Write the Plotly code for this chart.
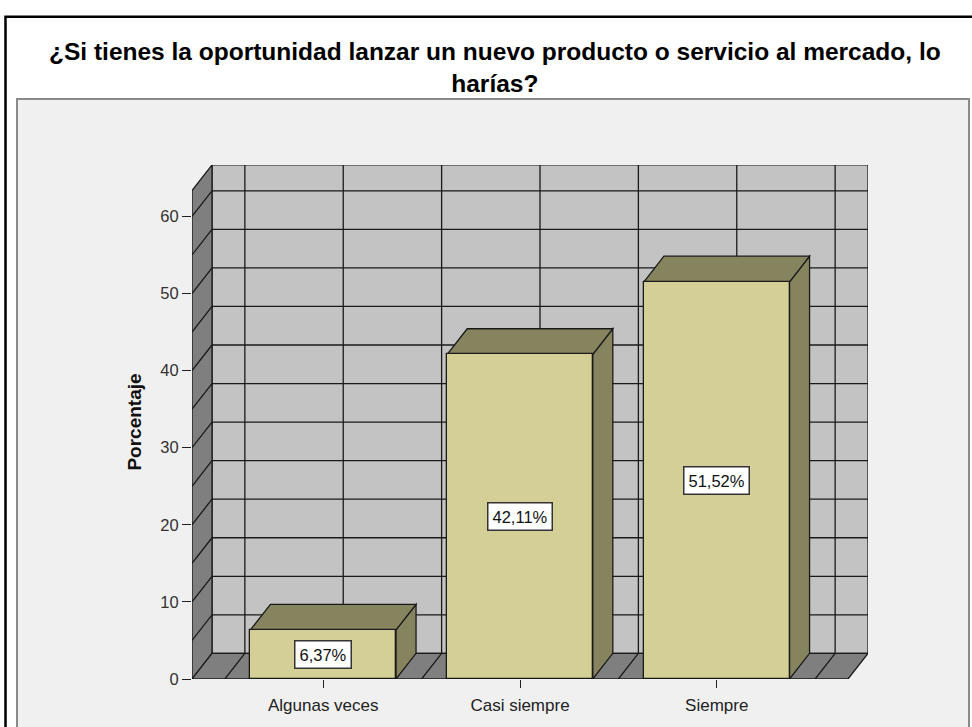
import plotly.graph_objects as go

# ---- data ----
categories = ["Algunas veces", "Casi siempre", "Siempre"]
values = [6.37, 42.11, 51.52]
labels = ["6,37%", "42,11%", "51,52%"]
y_ticks = [0, 10, 20, 30, 40, 50, 60]
title_lines = ["¿Si tienes la oportunidad lanzar un nuevo producto o servicio al mercado, lo", "harías?"]
y_title = "Porcentaje"

# ---- layout constants ----
FIG_W, FIG_H = 972, 727
ML, MR, MT, MB = 192, 104, 165, 40
PW = FIG_W - ML - MR
PH = FIG_H - MT - MB
XMIN, XMAXF = -0.667, 2.667     # front x extent (category units)
YMAXF = 63.35                    # front y extent
DXP, DYP = 20, 26                # depth in pixels
px_x = PW / 3.435
DX = DXP / px_x
XMAX = XMAXF + DX
px_y = 7.83
DY = DYP / px_y
YMAX = PH / px_y
BAR_W = 0.74

FONT = "Liberation Sans, Arial, sans-serif"
LINE = dict(color="#1a1a1a", width=1.3)

def px2paper_x(px):
    return (px - ML) / PW

def px2paper_y(py):
    return (FIG_H - MB - py) / PH

def poly(pts):
    return "M " + " L ".join(f"{x},{y}" for x, y in pts) + " Z"

shapes = []
# outer frame & panel (paper coords)
shapes.append(dict(type="rect", xref="paper", yref="paper", layer="below",
                   x0=px2paper_x(5.5), x1=px2paper_x(980), y0=px2paper_y(740), y1=px2paper_y(14.5),
                   line=dict(color="black", width=2.5), fillcolor="white"))
shapes.append(dict(type="rect", xref="paper", yref="paper", layer="below",
                   x0=px2paper_x(17), x1=px2paper_x(969), y0=px2paper_y(740), y1=px2paper_y(98),
                   line=dict(color="#8a8a8a", width=2), fillcolor="#f0f0f0"))

# back wall
shapes.append(dict(type="path", xref="x", yref="y", layer="below",
                   path=poly([(XMIN + DX, DY), (XMAX, DY), (XMAX, YMAXF + DY), (XMIN + DX, YMAXF + DY)]),
                   fillcolor="#c3c3c3", line=LINE))
# left wall
shapes.append(dict(type="path", xref="x", yref="y", layer="below",
                   path=poly([(XMIN, 0), (XMIN + DX, DY), (XMIN + DX, YMAXF + DY), (XMIN, YMAXF)]),
                   fillcolor="#7f7f7f", line=LINE))
# floor
shapes.append(dict(type="path", xref="x", yref="y", layer="below",
                   path=poly([(XMIN, 0), (XMAXF, 0), (XMAX, DY), (XMIN + DX, DY)]),
                   fillcolor="#7f7f7f", line=LINE))
# horizontal grid lines (every 5) on back wall + diagonals on left wall
v = 5
while v < YMAXF:
    shapes.append(dict(type="line", xref="x", yref="y", layer="below",
                       x0=XMIN + DX, x1=XMAX, y0=v + DY, y1=v + DY, line=LINE))
    shapes.append(dict(type="line", xref="x", yref="y", layer="below",
                       x0=XMIN, x1=XMIN + DX, y0=v, y1=v + DY, line=LINE))
    v += 5
# vertical grid lines on back wall + diagonals on floor
xg = -0.5
while xg < XMAXF:
    shapes.append(dict(type="line", xref="x", yref="y", layer="below",
                       x0=xg + DX, x1=xg + DX, y0=DY, y1=YMAXF + DY, line=LINE))
    shapes.append(dict(type="line", xref="x", yref="y", layer="below",
                       x0=xg, x1=xg + DX, y0=0, y1=DY, line=LINE))
    xg += 0.5

# bar top & side faces
for i, val in enumerate(values):
    x0, x1 = i - BAR_W / 2, i + BAR_W / 2
    shapes.append(dict(type="path", xref="x", yref="y", layer="below",
                       path=poly([(x1, 0), (x1 + DX, DY), (x1 + DX, val + DY), (x1, val)]),
                       fillcolor="#86845f", line=LINE))
    shapes.append(dict(type="path", xref="x", yref="y", layer="below",
                       path=poly([(x0, val), (x1, val), (x1 + DX, val + DY), (x0 + DX, val + DY)]),
                       fillcolor="#86845f", line=LINE))

fig = go.Figure()
fig.add_trace(go.Bar(
    x=list(range(len(categories))), y=values, width=BAR_W,
    marker=dict(color="#d4cf97", line=dict(color="#1a1a1a", width=1.3)),
    hoverinfo="skip", showlegend=False,
))

annotations = []
for i, (val, lab) in enumerate(zip(values, labels)):
    annotations.append(dict(x=i, y=val / 2, xref="x", yref="y", text=lab, showarrow=False,
                            font=dict(family=FONT, size=16.5, color="#111"),
                            bgcolor="white", bordercolor="#333", borderwidth=1.5, borderpad=4))
# title (two lines)
annotations.append(dict(x=px2paper_x(495), y=px2paper_y(66), xref="paper", yref="paper",
                        xanchor="center", yanchor="middle", showarrow=False, align="center",
                        text="<br>".join("<b>" + t + "</b>" for t in title_lines),
                        font=dict(family=FONT, size=24.5, color="#000")))

fig.update_layout(
    width=FIG_W, height=FIG_H,
    margin=dict(l=ML, r=MR, t=MT, b=MB, pad=0),
    paper_bgcolor="white", plot_bgcolor="rgba(0,0,0,0)",
    shapes=shapes, annotations=annotations,
    font=dict(family=FONT, size=17, color="#222"),
    bargap=0,
)
fig.update_xaxes(range=[XMIN, XMAX], tickmode="array", tickvals=list(range(len(categories))),
                 ticktext=categories, ticks="outside", ticklen=8, tickcolor="#222", tickwidth=1.3,
                 ticklabelstandoff=3,
                 showgrid=False, zeroline=False, showline=False,
                 tickfont=dict(family=FONT, size=17, color="#222"), fixedrange=True)
fig.update_yaxes(range=[0, YMAX], tickmode="array", tickvals=y_ticks,
                 ticks="outside", ticklen=9, tickcolor="#222", tickwidth=1.3,
                 showgrid=False, zeroline=False, showline=False,
                 tickfont=dict(family=FONT, size=16.5, color="#333"),
                 title=dict(text="<b>" + y_title + "</b>", standoff=13,
                            font=dict(family=FONT, size=19, color="#111")),
                 fixedrange=True)

fig.write_html("out.html", config={"displayModeBar": False},
               post_script="document.body.style.margin='0px';")
